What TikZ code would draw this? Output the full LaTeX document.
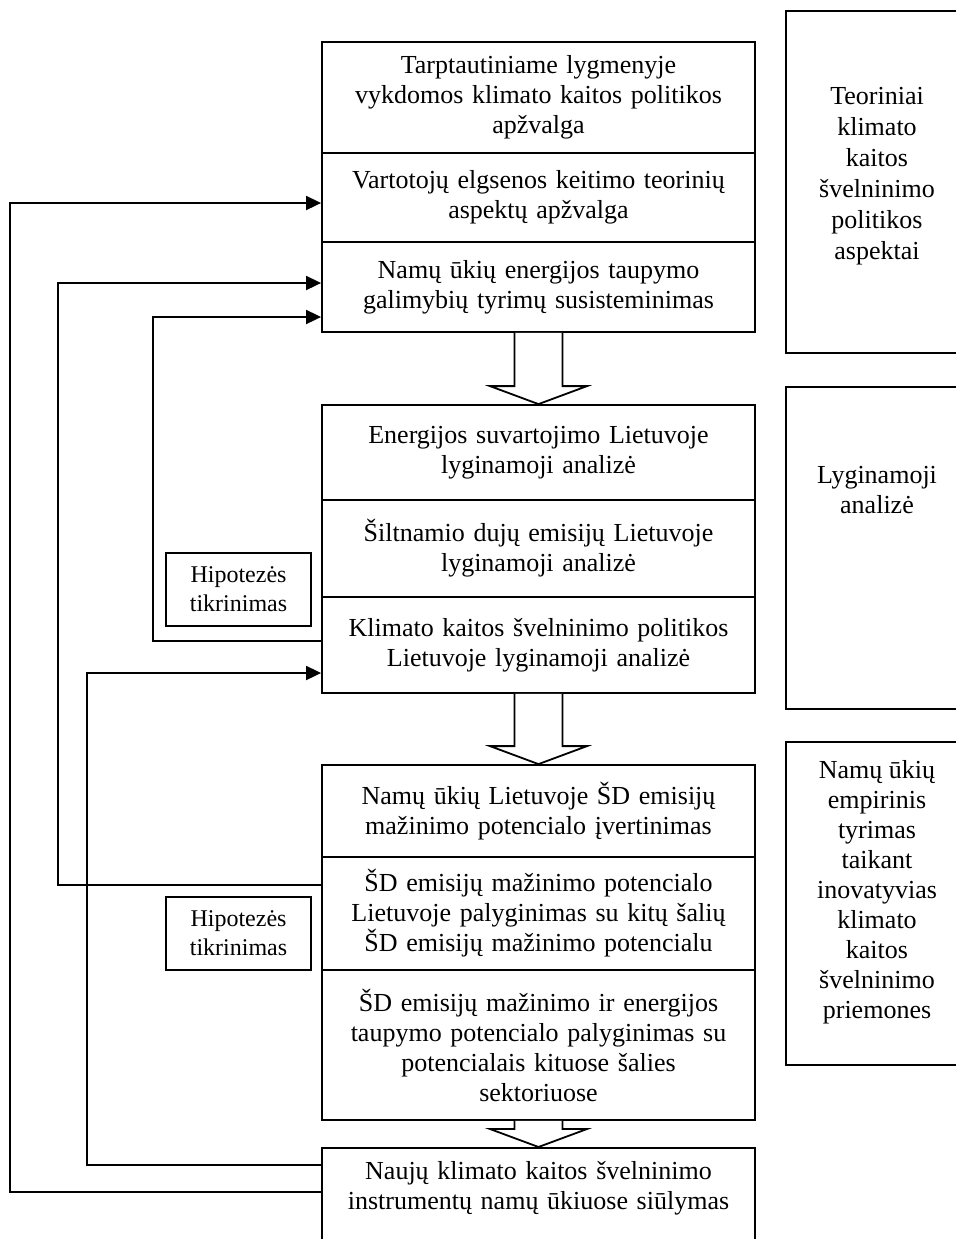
\documentclass[tikz,border=0pt]{standalone}
\usepackage{fontspec}
\setmainfont{Liberation Serif}
\usepackage{tikz}
\usetikzlibrary{arrows.meta}

\begin{document}
\begin{tikzpicture}[x=0.5pt,y=-0.5pt,font=\fontsize{13}{15}\selectfont,
  stage/.style={draw,line width=0.9pt,text width=204pt,minimum width=216.5pt,align=center,inner xsep=6.25pt},
  side/.style={draw,line width=0.9pt,minimum width=91pt},
  hyp/.style={draw,line width=0.9pt,minimum width=72.5pt,minimum height=36.5pt,align=center,inner sep=0pt,font=\fontsize{12}{14.5}\selectfont},
  fb/.style={line width=0.9pt,-{Triangle[length=7.5pt,width=7pt]}},
  hollow/.style={draw,fill=white,line width=0.9pt}]
  \useasboundingbox (0,0) rectangle (955,1239);
  \node[stage,minimum height=55.5pt] (intl) at (538.5,97.5) {Tarptautiniame lygmenyje\\ vykdomos klimato kaitos politikos\\ apžvalga};
  \node[stage,minimum height=44.5pt] (cons) at (538.5,197.5) {Vartotojų elgsenos keitimo teorinių\\ aspektų apžvalga};
  \node[stage,minimum height=45pt] (hh) at (538.5,287) {Namų ūkių energijos taupymo\\ galimybių tyrimų susisteminimas};
  \node[stage,minimum height=47.5pt] (ener) at (538.5,452.5) {Energijos suvartojimo Lietuvoje\\ lyginamoji analizė};
  \node[stage,minimum height=48.5pt] (ghg) at (538.5,548.5) {Šiltnamio dujų emisijų Lietuvoje\\ lyginamoji analizė};
  \node[stage,minimum height=48pt] (pol) at (538.5,645) {Klimato kaitos švelninimo politikos\\ Lietuvoje lyginamoji analizė};
  \node[stage,minimum height=46pt] (pot) at (538.5,811) {Namų ūkių Lietuvoje ŠD emisijų\\ mažinimo potencialo įvertinimas};
  \node[stage,minimum height=56.5pt] (cmp) at (538.5,913.5) {ŠD emisijų mažinimo potencialo\\ Lietuvoje palyginimas su kitų šalių\\ ŠD emisijų mažinimo potencialu};
  \node[stage,minimum height=75pt] (sect) at (538.5,1045) {ŠD emisijų mažinimo ir energijos\\ taupymo potencialo palyginimas su\\ potencialais kituose šalies\\ sektoriuose};
  \node[stage,anchor=north,inner ysep=6.5pt,text depth=40pt] (prop) at (538.5,1147) {Naujų klimato kaitos švelninimo\\ instrumentų namų ūkiuose siūlymas};
  \node[side,minimum height=171pt] (theo) at (877,182) {};
  \node[align=center,font=\fontsize{13}{15.5}\selectfont] (theotxt) at (877,176) {Teoriniai\\ klimato\\ kaitos\\ švelninimo\\ politikos\\ aspektai};
  \node[side,minimum height=161pt] (comp) at (877,548) {};
  \node[align=center] (comptxt) at (877,490) {Lyginamoji\\ analizė};
  \node[side,minimum height=161.5pt] (emp) at (877,903.5) {};
  \node[align=center] (emptxt) at (877,892) {Namų ūkių\\ empirinis\\ tyrimas\\ taikant\\ inovatyvias\\ klimato\\ kaitos\\ švelninimo\\ priemones};
  \node[hyp] (hyp1) at (238.5,589.5) {Hipotezės\\ tikrinimas};
  \node[hyp] (hyp2) at (238.5,933.5) {Hipotezės\\ tikrinimas};
  \foreach \a/\b in {hh/ener,pol/pot,sect/prop}
    \draw[hollow] ([shift={(-24,0)}]\a.south) -- ([shift={(-24,-18)}]\b.north) -- ([shift={(-48.5,-18)}]\b.north) -- (\b.north) -- ([shift={(48.5,-18)}]\b.north) -- ([shift={(24,-18)}]\b.north) -- ([shift={(24,0)}]\a.south);
  \draw[fb] ([yshift=-22.5pt]prop.north west) -- ++(-311,0) |- ([yshift=-2.75pt]cons.west);
  \draw[fb] ([yshift=14.25pt]cmp.west) -- ++(-263,0) |- ([yshift=2pt]hh.west);
  \draw[fb] ([yshift=2pt]pol.west) -- ++(-168,0) |- ([yshift=-15pt]hh.west);
  \draw[fb] ([yshift=-9pt]prop.north west) -- ++(-234,0) |- ([yshift=-14pt]pol.west);
\end{tikzpicture}
\end{document}
